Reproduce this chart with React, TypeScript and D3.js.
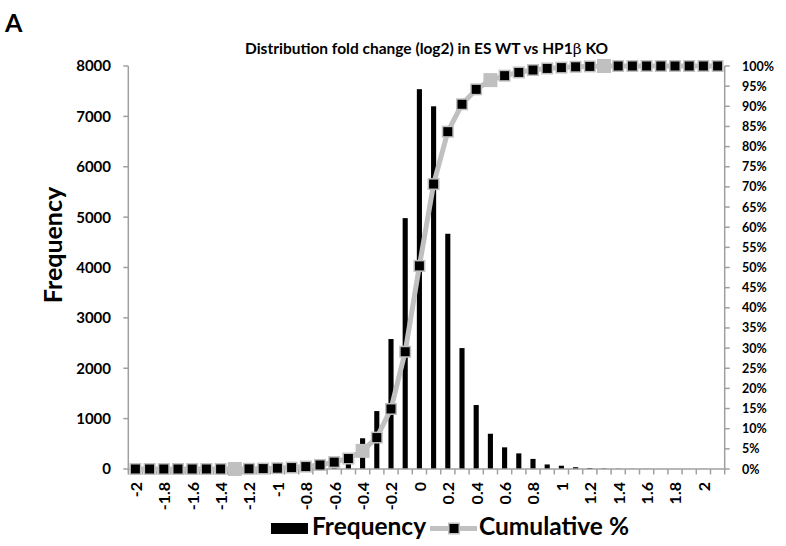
import React from "react";
import * as d3 from "d3";

const categories: string[] = [
  "-2", "-1.9", "-1.8", "-1.7", "-1.6", "-1.5", "-1.4", "-1.3", "-1.2", "-1.1",
  "-1", "-0.9", "-0.8", "-0.7", "-0.6", "-0.5", "-0.4", "-0.3", "-0.2", "-0.1",
  "0", "0.1", "0.2", "0.3", "0.4", "0.5", "0.6", "0.7", "0.8", "0.9",
  "1", "1.1", "1.2", "1.3", "1.4", "1.5", "1.6", "1.7", "1.8", "1.9", "2", "More",
];

const frequency: number[] = [
  0, 0, 0, 0, 0, 1, 2, 3, 4, 6,
  8, 12, 20, 35, 70, 150, 610, 1150, 2580, 4980,
  7540, 7200, 4670, 2400, 1270, 700, 430, 310, 200, 90,
  65, 35, 20, 10, 5, 3, 2, 1, 1, 0, 1, 0,
];

const cumulative: number[] = [
  0, 0, 0, 0, 0, 0, 0, 0, 0.05, 0.1,
  0.2, 0.35, 0.6, 1.0, 1.7, 2.6, 4.5, 7.8, 14.9, 29.1,
  50.4, 70.7, 83.7, 90.5, 94.2, 96.5, 97.6, 98.4, 99.0, 99.4,
  99.6, 99.8, 99.9, 100, 100, 100, 100, 100, 100, 100, 100, 100,
];

const hiddenMarkers: string[] = ["-1.3", "-0.4", "0.5", "1.3"];

const xTickLabels: string[] = [
  "-2", "-1.8", "-1.6", "-1.4", "-1.2", "-1", "-0.8", "-0.6", "-0.4", "-0.2",
  "0", "0.2", "0.4", "0.6", "0.8", "1", "1.2", "1.4", "1.6", "1.8", "2",
];

const leftTicks: number[] = [0, 1000, 2000, 3000, 4000, 5000, 6000, 7000, 8000];
const rightTicks: number[] = [0, 5, 10, 15, 20, 25, 30, 35, 40, 45, 50, 55, 60, 65, 70, 75, 80, 85, 90, 95, 100];

const title = "Distribution fold change (log2) in ES WT vs HP1";
const titleTail = " KO";

export default function App() {
  const W = 786, H = 546;
  const left = 128.3, right = 724.7, top = 66, bottom = 469;
  const font = "Lato, 'Open Sans', sans-serif";
  const axisColor = "#a0a0a0";
  const lineColor = "#c0c0c0";

  const x = d3.scaleBand<string>().domain(categories).range([left, right]).paddingInner(0).paddingOuter(0);
  const yL = d3.scaleLinear().domain([0, 8000]).range([bottom, top]);
  const yR = d3.scaleLinear().domain([0, 100]).range([bottom, top]);
  const bw = x.bandwidth();
  const barW = bw * 0.36;
  const cx = (c: string) => (x(c) as number) + bw / 2;

  const line = d3.line<number>()
    .x((_, i) => cx(categories[i]))
    .y((d) => yR(d));

  const ms = 10.5;
  const hs = 12.5;

  return (
    <svg width={W} height={H} style={{ position: "absolute", left: 0, top: 0, background: "#fff" }}>
      <text x={5} y={32} fontFamily={font} fontWeight="bold" fontSize={25} fill="#000">A</text>
      <text x={(left + right) / 2} y={54} textAnchor="middle" fontFamily={font} fontWeight="bold" fontSize={15.5} fill="#000">
        {title}
        <tspan fontFamily="'DejaVu Serif', serif" fontWeight="normal">β</tspan>
        {titleTail}
      </text>

      {/* bars */}
      {frequency.map((v, i) => (
        <rect key={"b" + i} x={cx(categories[i]) - barW / 2} y={yL(v)} width={barW} height={bottom - yL(v)} fill="#000" />
      ))}

      {/* axes */}
      <line x1={left} y1={top} x2={left} y2={bottom} stroke={axisColor} strokeWidth={1.5} />
      <line x1={right} y1={top} x2={right} y2={bottom} stroke={axisColor} strokeWidth={1.5} />
      <line x1={left} y1={bottom} x2={right} y2={bottom} stroke={axisColor} strokeWidth={1.5} />
      {leftTicks.map((t) => (
        <g key={"lt" + t}>
          <line x1={left - 5} x2={left} y1={yL(t)} y2={yL(t)} stroke={axisColor} strokeWidth={1.5} />
          <text x={111} y={yL(t) + 5.4} textAnchor="end" fontFamily={font} fontWeight="bold" fontSize={15} fill="#000">{t}</text>
        </g>
      ))}
      {rightTicks.map((t) => (
        <g key={"rt" + t}>
          <line x1={right} x2={right + 5} y1={yR(t)} y2={yR(t)} stroke={axisColor} strokeWidth={1.5} />
          <text x={742} y={yR(t) + 4.5} textAnchor="start" fontFamily={font} fontWeight="bold" fontSize={12.5} fill="#000">{t + "%"}</text>
        </g>
      ))}
      {categories.map((c, i) => (
        <line key={"xt" + i} x1={x(c) as number} x2={x(c) as number} y1={bottom} y2={bottom + 5.5} stroke={axisColor} strokeWidth={1.5} />
      ))}
      <line x1={right} x2={right} y1={bottom} y2={bottom + 5.5} stroke={axisColor} strokeWidth={1.5} />
      {xTickLabels.map((c) => (
        <text key={"xl" + c} transform={`translate(${cx(c) + 6.4},${482}) rotate(-90)`} textAnchor="end"
          fontFamily={font} fontWeight="bold" fontSize={16} fill="#000">{c}</text>
      ))}

      <text transform={`translate(62,245) rotate(-90)`} textAnchor="middle" fontFamily={font} fontWeight="bold" fontSize={25} fill="#000">Frequency</text>

      {/* cumulative line */}
      <path d={line(cumulative) || ""} fill="none" stroke={lineColor} strokeWidth={5} />
      {cumulative.map((v, i) => {
        const hidden = hiddenMarkers.includes(categories[i]);
        const s = hidden ? hs : ms;
        return (
          <rect key={"m" + i} x={cx(categories[i]) - s / 2} y={yR(v) - s / 2} width={s} height={s}
            fill={hidden ? lineColor : "#000"} stroke={lineColor} strokeWidth={1.5} />
        );
      })}

      {/* legend */}
      <rect x={271} y={523} width={37} height={11} fill="#000" />
      <text x={312} y={535} fontFamily={font} fontWeight="bold" fontSize={24.5} fill="#000">Frequency</text>
      <line x1={430} x2={477} y1={528.5} y2={528.5} stroke={lineColor} strokeWidth={5} />
      <rect x={454 - ms / 2} y={528.5 - ms / 2} width={ms} height={ms} fill="#000" stroke={lineColor} strokeWidth={1.5} />
      <text x={479} y={535} fontFamily={font} fontWeight="bold" fontSize={24.5} fill="#000">Cumulative %</text>
    </svg>
  );
}
